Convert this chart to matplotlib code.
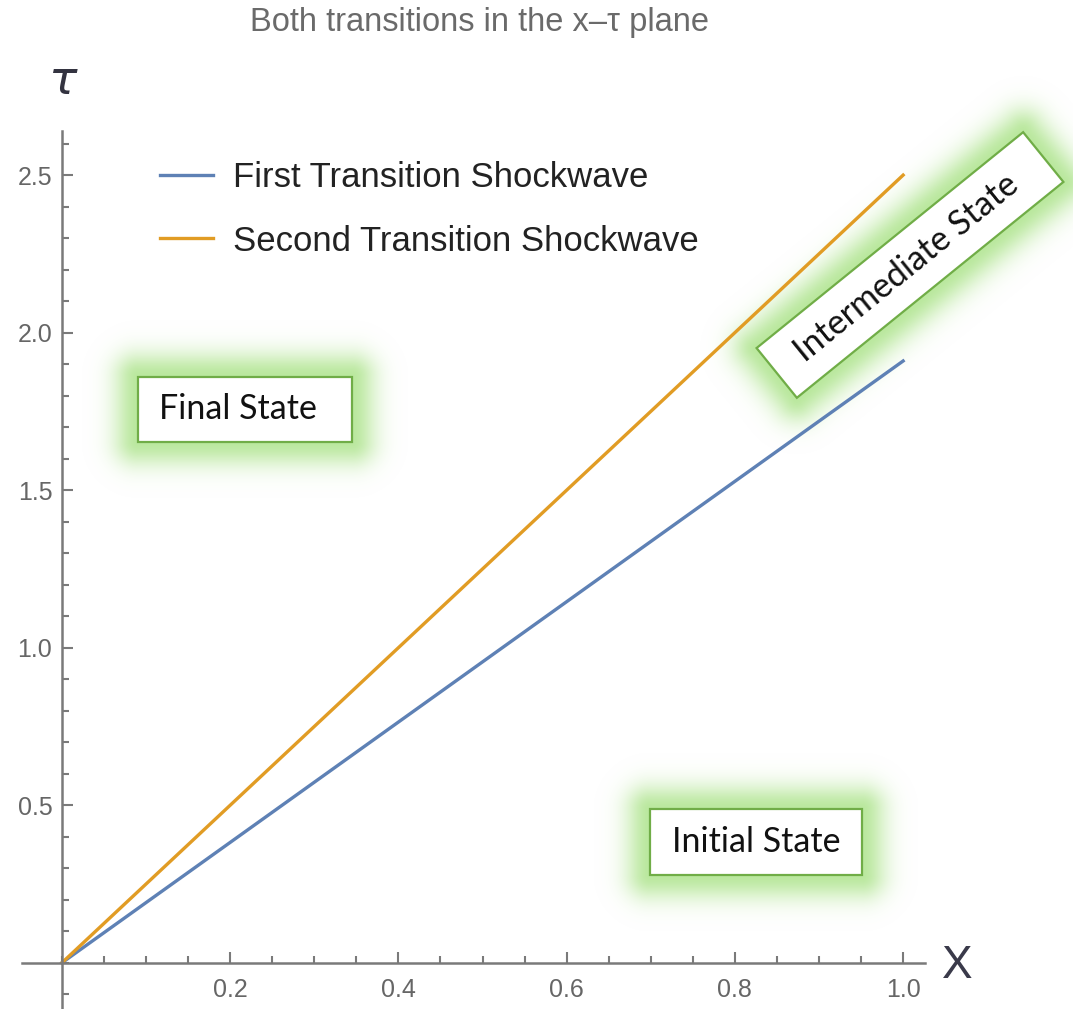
import numpy as np
import matplotlib
matplotlib.use("Agg")
import matplotlib.pyplot as plt
from matplotlib.patches import Rectangle
from matplotlib.ticker import MultipleLocator

# data
x_vals = [0.0, 1.0]
first_tau = [0.0, 1.91]
second_tau = [0.0, 2.5]
series_labels = ["First Transition Shockwave", "Second Transition Shockwave"]
series_colors = ["#5E81B5", "#E19C24"]
x_ticks = [0.2, 0.4, 0.6, 0.8, 1.0]
y_ticks = [0.5, 1.0, 1.5, 2.0, 2.5]

W, H = 1073, 1009
fig = plt.figure(figsize=(W / 100, H / 100), dpi=100)

# background layer for the green glowing boxes (pixel coords, origin top left)
bg = fig.add_axes([0, 0, 1, 1], zorder=0)
bg.set_xlim(0, W)
bg.set_ylim(H, 0)
bg.axis("off")

# boxes: center x, center y, width, height, angle (deg), text, text offset
boxes = [
    (245, 409, 214, 65, 0, "Final State", -7),
    (756, 842, 212, 66, 0, "Initial State", 0),
    (910, 265, 343, 64, 39, "Intermediate State", -4),
]

yy, xx = np.mgrid[0:H, 0:W] + 0.5
glow = np.zeros((H, W))
for cx, cy, bw, bh, ang, _, _ in boxes:
    t = np.deg2rad(ang)
    u = (xx - cx) * np.cos(t) - (yy - cy) * np.sin(t)
    v = (xx - cx) * np.sin(t) + (yy - cy) * np.cos(t)
    du = np.maximum(np.abs(u) - bw / 2, 0)
    dv = np.maximum(np.abs(v) - bh / 2, 0)
    d = np.sqrt(du ** 2 + dv ** 2)
    a = np.exp(-(d / 24.0) ** 2)
    glow = np.maximum(glow, a)
img = np.zeros((H, W, 4))
img[..., 0] = 0.73
img[..., 1] = 0.91
img[..., 2] = 0.62
img[..., 3] = glow
bg.imshow(img, extent=(0, W, H, 0), interpolation="bilinear", aspect="auto")

for cx, cy, bw, bh, ang, txt, off in boxes:
    t = np.deg2rad(ang)
    rect = Rectangle((cx - bw / 2, cy - bh / 2), bw, bh, angle=-ang,
                     rotation_point="center", facecolor="white",
                     edgecolor="#70AD47", lw=1.6)
    bg.add_patch(rect)
    bg.text(cx + off * np.cos(t), cy - off * np.sin(t), txt, rotation=ang,
            rotation_mode="anchor", ha="center", va="center",
            fontsize=24.5, family="Lato", color="#111111")

# main plot, Mathematica style axes through the origin
ax = fig.add_axes([21.6 / W, -1 / H, (925 - 21.6) / W, (1010 - 131) / H], zorder=2)
ax.patch.set_alpha(0)
ax.plot(x_vals, first_tau, color=series_colors[0], lw=2.4, label=series_labels[0])
ax.plot(x_vals, second_tau, color=series_colors[1], lw=2.4, label=series_labels[1])
ax.set_xlim(-0.048, 1.026)
ax.set_ylim(-0.15, 2.64)

ax.spines["left"].set_position(("data", 0))
ax.spines["bottom"].set_position(("data", 0))
ax.spines["top"].set_visible(False)
ax.spines["right"].set_visible(False)
for s in ("left", "bottom"):
    ax.spines[s].set_color("#7a7a7a")
    ax.spines[s].set_linewidth(1.8)

ax.set_xticks(x_ticks)
ax.set_yticks(y_ticks)
ax.xaxis.set_minor_locator(MultipleLocator(0.05))
ax.yaxis.set_minor_locator(MultipleLocator(0.1))
ax.set_xticklabels([f"{v:.1f}" for v in x_ticks])
ax.set_yticklabels([f"{v:.1f}" for v in y_ticks])
ax.tick_params(which="both", direction="in", color="#7a7a7a", width=1.5,
               labelcolor="#666666", labelsize=18, labelfontfamily="Liberation Sans")
ax.tick_params(which="major", length=8)
ax.tick_params(which="minor", length=5)
ax.tick_params(axis="x", which="major", pad=11)
ax.tick_params(axis="y", which="major", pad=7)

leg = ax.legend(loc="upper left", bbox_to_anchor=(160 / W, 1 - 161 / H),
                bbox_transform=fig.transFigure, frameon=False,
                prop={"family": "Liberation Sans", "size": 25},
                borderpad=0, borderaxespad=0,
                handlelength=1.53, handletextpad=0.58, labelspacing=0.88)
for t in leg.get_texts():
    t.set_color("#222222")

fig.text(479 / W, 1 - 23 / H, "Both transitions in the x\u2013\u03c4 plane",
         ha="center", va="center", fontsize=23.5, family="Liberation Sans",
         color="#6a6a6a")
fig.text(63 / W, 1 - 82 / H, "\u03c4", ha="center", va="center", fontsize=34,
         style="italic", family="DejaVu Sans", color="#333340")
fig.text(957 / W, 1 - 966 / H, "X", ha="center", va="center", fontsize=33,
         family="Liberation Sans", color="#3a3a4a")

fig.savefig("out.png", dpi=100)
